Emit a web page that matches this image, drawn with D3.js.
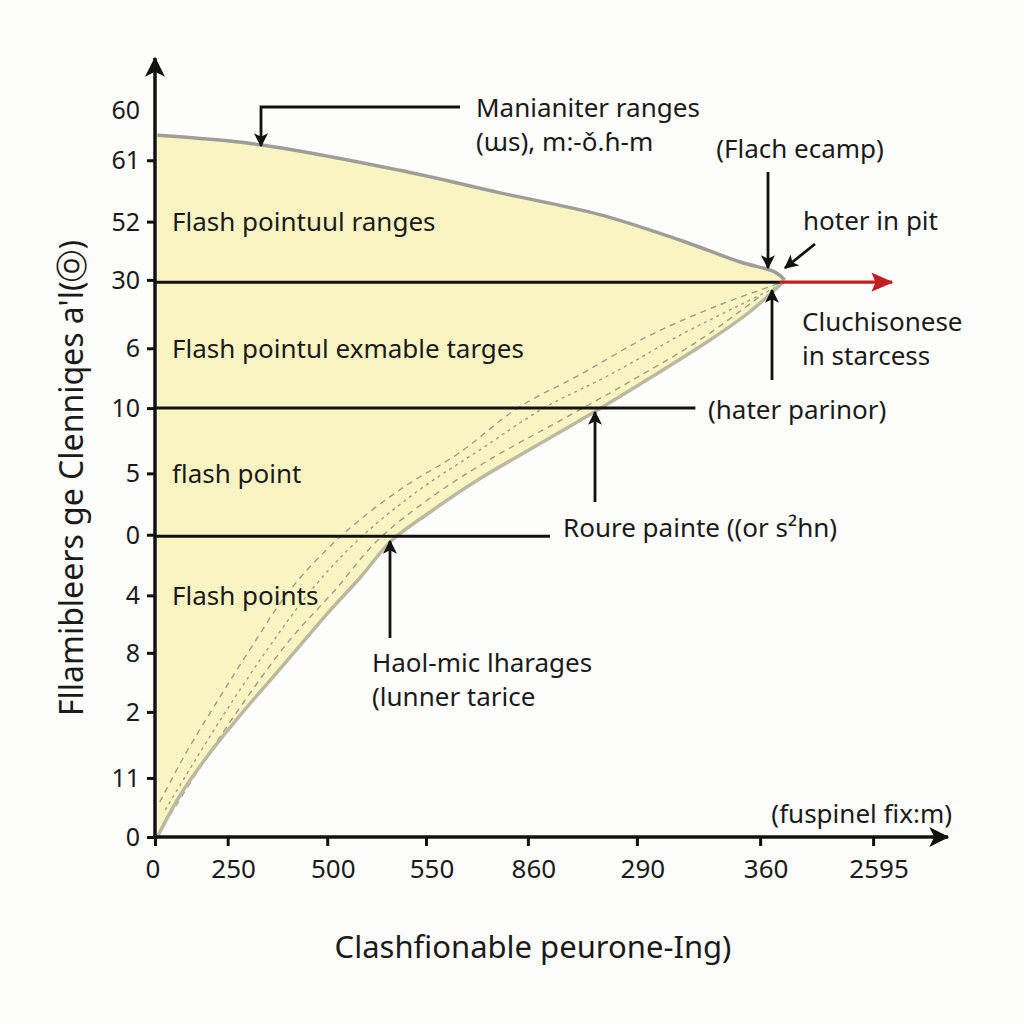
<!DOCTYPE html>
<html><head><meta charset="utf-8">
<script src="https://cdn.jsdelivr.net/npm/d3@7"></script>
<style>html,body{margin:0;padding:0;background:#fdfdfb;}svg{display:block;}text{font-family:"Noto Sans",sans-serif;fill:#1a1a1a;}</style>
</head><body>
<script>
// ---- data ----
const yTickLabels = ["60","61","52","30","6","10","5","0","4","8","2","11","0"];
const yTickVals   = [93.6, 87.1, 79.2, 71.7, 62.9, 55.2, 46.8, 38.9, 31.1, 23.7, 16.1, 7.6, 0];
const yTickMarked = [false,true,true,true,true,true,true,true,true,true,true,true,true];
const xTickLabels = ["0","250","500","550","860","290","360","2595"];
const xTickVals   = [0, 9.2, 21.8, 34.3, 47.2, 61.0, 76.6, 90.9];

const upperX = [0.3, 13.3, 31.0, 43.7, 56.3, 66.5, 74.1, 78.5, 79.7];
const upperY = [90.3, 89.1, 85.8, 82.9, 80.1, 76.8, 74.0, 72.7, 71.7];
const lowerX = [0.3, 3.2, 7.0, 10.8, 14.6, 18.4, 22.2, 25.9, 29.9, 34.8, 41.1, 48.7, 55.6, 62.7, 70.3, 75.3, 79.7];
const lowerY = [0, 5.4, 10.9, 15.7, 20.2, 24.7, 29.2, 33.3, 38.1, 41.8, 46.1, 50.6, 54.7, 59.1, 64.0, 67.6, 71.6];

const dash1X = [0.6, 3.8, 7.6, 12.0, 17.1, 23.5, 31.0, 38.6, 45.9, 53.8, 62.7, 71.5, 78.9];
const dash1Y = [4.5, 10.6, 17.0, 24.1, 31.8, 38.7, 44.7, 49.5, 55.2, 59.5, 64.6, 68.5, 71.2];
const dash2X = [1.3, 5.1, 9.5, 14.6, 20.3, 26.2, 33.5, 41.1, 49.2, 57.6, 66.5, 74.1, 79.1];
const dash2Y = [3.5, 9.9, 17.0, 24.7, 32.4, 38.7, 44.7, 49.8, 55.2, 59.5, 64.6, 68.5, 71.0];
const dash3X = [1.9, 6.3, 11.4, 17.1, 22.8, 28.2, 34.8, 42.4, 51.3, 60.1, 69.0, 76.6];
const dash3Y = [2.8, 9.9, 17.6, 25.4, 31.8, 38.2, 43.6, 48.6, 53.6, 58.6, 64.0, 69.6];

const hLineY   = [71.4, 55.2, 38.7];
const hLineEnd = [79.1, 68.4, 50.0];

const regionLabels = ["Flash pointuul ranges","Flash pointul exmable targes","flash point","Flash points"];
const regionLabelY = [79.2, 62.9, 46.8, 31.1];

// ---- layout ----
const W = 1024, H = 1024;
const x = d3.scaleLinear().domain([0,100]).range([155,945]);
const y = d3.scaleLinear().domain([0,100]).range([837,60]);

const svg = d3.select("body").append("svg").attr("width",W).attr("height",H);
svg.append("rect").attr("width",W).attr("height",H).attr("fill","#fdfdfb");

const defs = svg.append("defs");
defs.append("marker").attr("id","ah").attr("viewBox","0 0 12 12").attr("refX",11).attr("refY",6)
    .attr("markerWidth",14).attr("markerHeight",14).attr("markerUnits","userSpaceOnUse").attr("orient","auto")
    .append("path").attr("d","M0,0 L12,6 L0,12 L3,6 Z").attr("fill","#111");
defs.append("marker").attr("id","ahb").attr("viewBox","0 0 16 16").attr("refX",15).attr("refY",8)
    .attr("markerWidth",20).attr("markerHeight",20).attr("markerUnits","userSpaceOnUse").attr("orient","auto")
    .append("path").attr("d","M0,0 L16,8 L0,16 L4,8 Z").attr("fill","#111");
defs.append("marker").attr("id","ahr").attr("viewBox","0 0 16 16").attr("refX",15).attr("refY",8)
    .attr("markerWidth",26).attr("markerHeight",22).attr("markerUnits","userSpaceOnUse").attr("orient","auto")
    .append("path").attr("d","M0,1 L16,8 L0,15 L3,8 Z").attr("fill","#c41e22");

// ---- filled region ----
const upper = upperX.map((v,i)=>[v,upperY[i]]);
const lower = lowerX.map((v,i)=>[v,lowerY[i]]);
const line = d3.line().x(d=>x(d[0])).y(d=>y(d[1])).curve(d3.curveCatmullRom.alpha(0.5));

const upperPath = line(upper);
const lowerRevPath = line(lower.slice().reverse());
svg.append("path")
  .attr("d", upperPath + "L" + lowerRevPath.slice(1) + "Z")
  .attr("fill","#faf4c2");

// dashed lines
[[dash1X,dash1Y],[dash2X,dash2Y],[dash3X,dash3Y]].forEach(([dx,dy],k)=>{
  svg.append("path").attr("d", line(dx.map((v,i)=>[v,dy[i]])))
    .attr("fill","none").attr("stroke","#8f8d80").attr("stroke-width",1.4)
    .attr("stroke-dasharray", k===1 ? "3,4" : "6,5").attr("opacity",0.85);
});

// boundaries
svg.append("path").attr("d", line(upper)).attr("fill","none").attr("stroke","#9e9e98").attr("stroke-width",3.5);
svg.append("path").attr("d", line(lower)).attr("fill","none").attr("stroke","#bdb9a0").attr("stroke-width",3.5);

// horizontal lines
hLineY.forEach((v,i)=>{
  svg.append("line").attr("x1",x(0)).attr("x2",x(hLineEnd[i])).attr("y1",y(v)).attr("y2",y(v))
    .attr("stroke","#111").attr("stroke-width",3);
});

// red arrow
svg.append("line").attr("x1",x(hLineEnd[0])).attr("x2",x(93.3)).attr("y1",y(hLineY[0])).attr("y2",y(hLineY[0]))
  .attr("stroke","#c41e22").attr("stroke-width",3.2).attr("marker-end","url(#ahr)");

// ---- axes ----
const yAxis = d3.axisLeft(y).tickValues(yTickVals.filter((v,i)=>yTickMarked[i])).tickSize(8).tickFormat("");
const gy = svg.append("g").attr("transform",`translate(${x(0)},0)`).call(yAxis);
gy.select(".domain").remove();
gy.selectAll(".tick line").attr("stroke","#111").attr("stroke-width",3);
svg.append("line").attr("x1",x(0)).attr("x2",x(0)).attr("y1",y(0)+2).attr("y2",y(100)-2)
  .attr("stroke","#111").attr("stroke-width",3.5).attr("marker-end","url(#ahb)");
svg.append("g").selectAll("text").data(yTickLabels).join("text")
  .attr("x",x(0)-15).attr("y",(d,i)=>y(yTickVals[i])).attr("dy","0.36em")
  .attr("text-anchor","end").attr("font-size",25).text(d=>d);

const xAxis = d3.axisBottom(x).tickValues(xTickVals).tickSize(9).tickFormat("");
const gx = svg.append("g").attr("transform",`translate(0,${y(0)})`).call(xAxis);
gx.select(".domain").remove();
gx.selectAll(".tick line").attr("stroke","#111").attr("stroke-width",3);
svg.append("line").attr("x1",x(0)-2).attr("x2",x(100)+3).attr("y1",y(0)).attr("y2",y(0))
  .attr("stroke","#111").attr("stroke-width",3.5).attr("marker-end","url(#ahb)");
svg.append("g").selectAll("text").data(xTickLabels).join("text")
  .attr("x",(d,i)=>x(xTickVals[i])+(i===0?-2:6)).attr("y",y(0)+41)
  .attr("text-anchor","middle").attr("font-size",26).text(d=>d);

// axis titles
svg.append("text").attr("x",533).attr("y",958).attr("text-anchor","middle").attr("font-size",31)
  .text("Clashfionable peurone-Ing)");
svg.append("text").attr("transform","translate(83,478) rotate(-90)").attr("text-anchor","middle").attr("font-size",32)
  .text("Fllamibleers ge Clenniqes a'l(ⓞ)");

// region labels
svg.append("g").selectAll("text").data(regionLabels).join("text")
  .attr("x",x(0)+17).attr("y",(d,i)=>y(regionLabelY[i])).attr("dy","0.36em")
  .attr("font-size",26).text(d=>d);

// ---- annotations ----
function arrow(pts){
  svg.append("path").attr("d", d3.line()(pts)).attr("fill","none").attr("stroke","#111")
    .attr("stroke-width",2.8).attr("marker-end","url(#ah)");
}
function label(lines, px, py, size, anchor){
  const t = svg.append("text").attr("x",px).attr("y",py).attr("font-size",size).attr("text-anchor",anchor||"start");
  lines.forEach((s,i)=>t.append("tspan").attr("x",px).attr("dy", i===0?0:size*1.3).text(s));
}
arrow([[460,107],[261,107],[261,146]]);
label(["Manianiter ranges","(ɯs), m:-ǒ.ɦ-m"], 476, 117, 26);
label(["(Flach ecamp)"], 800, 158, 26, "middle");
arrow([[768,172],[768,268]]);
label(["hoter in pit"], 803, 230, 26);
arrow([[815,244],[785,268]]);
arrow([[772,380],[772,290]]);
label(["Cluchisonese","in starcess"], 802, 331, 26);
label(["(hater parinor)"], 708, 419, 26);
arrow([[595,502],[595,412]]);
label(["Roure painte ((or s²hn)"], 563, 537, 26);
arrow([[390,638],[390,541]]);
label(["Haol-mic lharages","(lunner tarice"], 372, 672, 26);
label(["(fuspinel fix:m)"], 952, 823, 26, "end");
</script>
</body></html>
